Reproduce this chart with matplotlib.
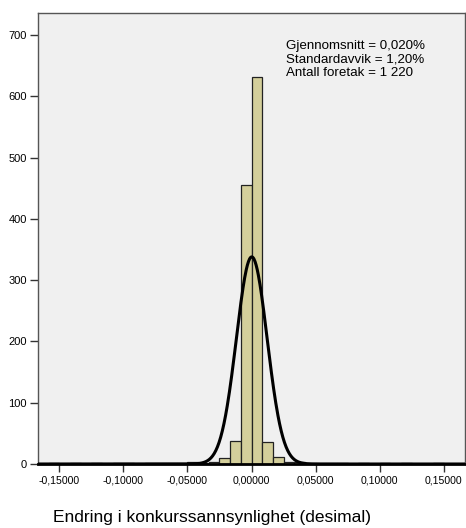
import numpy as np
import matplotlib.pyplot as plt

plt.rcParams['font.family'] = ['Liberation Sans', 'DejaVu Sans']

# histogram: bin width 1/120, bins indexed from -20 to 19 (left edge = k * width)
bin_width = 1.0 / 120
bin_index = [-19, -17, -15, -13, -12, -10, -9, -8, -7, -6, -5, -4, -3, -2, -1,
             0, 1, 2, 3, 4, 5, 6, 7, 8, 10, 12, 14, 17]
counts = [1, 1, 1, 2, 1, 1, 1, 1, 1, 4, 2, 3, 9, 37, 456,
          631, 36, 11, 4, 3, 2, 1, 1, 1, 1, 1, 1, 1]

mean = 0.0002
sd = 0.012
n_total = 1220

xticks = [-0.15, -0.10, -0.05, 0.0, 0.05, 0.10, 0.15]
xtick_labels = ['-0,15000', '-0,10000', '-0,05000', '0,00000', '0,05000', '0,10000', '0,15000']
yticks = [0, 100, 200, 300, 400, 500, 600, 700]

stats_text = 'Gjennomsnitt = 0,020%\nStandardavvik = 1,20%\nAntall foretak = 1 220'

fig = plt.figure(figsize=(4.66, 5.28), dpi=100)
ax = fig.add_axes([38 / 466, 1 - 464 / 528, 427 / 466, 451 / 528])
ax.set_facecolor('#f0f0f0')

lefts = np.array(bin_index) * bin_width
ax.bar(lefts, counts, width=bin_width, align='edge', color='#d4cf9b',
       edgecolor='#222222', linewidth=0.9, zorder=2)

# normal curve scaled to counts
xs = np.linspace(-0.17, 0.17, 800)
ys = n_total * bin_width / (sd * np.sqrt(2 * np.pi)) * np.exp(-0.5 * ((xs - mean) / sd) ** 2)
ax.plot(xs, ys, color='black', linewidth=2.2, zorder=3)

ax.set_xlim(-20 * bin_width, 20 * bin_width)
ax.set_ylim(0, 736)
ax.set_xticks(xticks)
ax.set_xticklabels(xtick_labels, fontsize=7.6)
ax.set_yticks(yticks)
ax.set_yticklabels([str(v) for v in yticks], fontsize=8)
ax.tick_params(direction='out', length=6, width=1, color='#333333', pad=2)

for side in ['top', 'right', 'left']:
    ax.spines[side].set_color('#555555')
    ax.spines[side].set_linewidth(1)
ax.spines['bottom'].set_color('black')
ax.spines['bottom'].set_linewidth(2)

ax.text(286 / 466, 1 - 40 / 528, stats_text, transform=fig.transFigure,
        fontsize=9.6, va='top', ha='left', linespacing=1.17)

fig.text(53 / 466, 1 - 522 / 528, 'Endring i konkurssannsynlighet (desimal)',
         fontsize=12.5, ha='left', va='baseline')

fig.savefig('out.png', dpi=100)
